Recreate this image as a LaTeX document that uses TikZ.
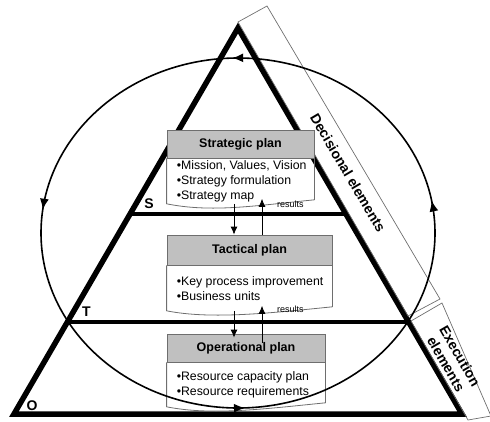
\documentclass[tikz,border=0pt]{standalone}
\usepackage{fontspec}
\setmainfont{Liberation Sans}
\usepackage{xcolor}
\definecolor{hdr_gray}{HTML}{C0C0C0}
\definecolor{edge_gray}{HTML}{6E6E6E}
\usetikzlibrary{positioning,calc,arrows.meta,decorations.markings}

\begin{document}
\begin{tikzpicture}[
        x=1pt, y=-1pt,
        pyramid/.style={line width=5.5pt, line join=miter},
        level/.style={line width=4.5pt},
        band/.style={draw=edge_gray, line width=0.7pt},
        header/.style={draw=edge_gray, fill=hdr_gray, line width=0.8pt, inner sep=0pt,
            font=\fontsize{12.5}{14}\selectfont\bfseries},
        body/.style={align=left, anchor=north west, inner xsep=10pt, inner ysep=0pt,
            font=\fontsize{12.3}{15}\selectfont},
        sheet/.style={draw=edge_gray, line width=0.8pt},
        flow/.style={line width=0.8pt, -{Latex[length=8pt, width=7pt]}},
        res/.style={font=\fontsize{9}{10}\selectfont, inner sep=0pt, anchor=west},
        letter/.style={font=\fontsize{14}{14}\selectfont\bfseries, inner sep=0pt},
        side/.style={font=\fontsize{14}{16}\selectfont\bfseries, align=center, inner sep=0pt},
        loop arrow/.style={line width=1.6pt, postaction=decorate, decoration={markings,
            mark=at position 0.028 with {\arrow{Latex[length=11pt, width=9pt]}},
            mark=at position 0.255 with {\arrow{Latex[length=11pt, width=9pt]}},
            mark=at position 0.48 with {\arrow{Latex[length=11pt, width=9pt]}},
            mark=at position 0.756 with {\arrow{Latex[length=11pt, width=9pt]}}}}
    ]
    \useasboundingbox (0,0) rectangle (490,421);

    % pyramid and its levels
    \coordinate (apex) at (238,28);
    \coordinate (bl) at (14,414);
    \coordinate (br) at (462,414);
    \coordinate (sL) at ($(apex)!0.482!(bl)$);
    \coordinate (sR) at ($(apex)!0.482!(br)$);
    \coordinate (tL) at ($(apex)!0.762!(bl)$);
    \coordinate (tR) at ($(apex)!0.762!(br)$);
    \draw[pyramid] (apex) -- (bl) -- (br) -- cycle;
    \draw[level] (sL) -- (sR);
    \draw[level] (tL) -- (tR);
    \node[letter] (S) at ($(sL)+(19,-10)$) {S};
    \node[letter] (T) at ($(tL)+(19,-10)$) {T};
    \node[letter] (O) at ($(bl)+(18,-8)$) {O};

    % side bands
    \draw[band] (238,22) -- (267,6) -- (440,299) -- (408,316) -- cycle;
    \draw[band] (411,321) -- (442,303) -- (491,416) -- (468,420) -- cycle;
    \node[side, rotate=-59.5] (dec) at (348,173) {Decisional elements};
    \node[side, rotate=-60] (exe) at (453,360) {Execution\\elements};

    % plans
    \node[header, minimum width=147pt, minimum height=28pt] (strat) at (240.5,144) {Strategic plan};
    \node[body, minimum height=45pt] (stratbody) at (strat.south west)
        {\textbullet Mission, Values, Vision\\\textbullet Strategy formulation\\\textbullet Strategy map};
    \draw[sheet] (strat.south west) -- (strat.south west |- stratbody.south)
        .. controls +(45,9) and +(-60,6) .. ([yshift=4pt]strat.south east |- stratbody.south)
        -- (strat.south east);

    \node[header, minimum width=165pt, minimum height=30pt] (tact) at (249.5,250) {Tactical plan};
    \node[body, minimum height=45pt] (tactbody) at (tact.south west)
        {\textbullet Key process improvement\\\textbullet Business units};
    \draw[sheet] (tact.south west) -- (tact.south west |- tactbody.south)
        .. controls +(45,9) and +(-60,6) .. ([yshift=4pt]tact.south east |- tactbody.south)
        -- (tact.south east);

    \node[header, minimum width=158pt, minimum height=28pt] (oper) at (246,348) {Operational plan};
    \node[body, minimum height=44pt] (operbody) at (oper.south west)
        {\textbullet Resource capacity plan\\\textbullet Resource requirements};
    \draw[sheet] (oper.south west) -- (oper.south west |- operbody.south)
        .. controls +(45,9) and +(-60,6) .. ([yshift=4pt]oper.south east |- operbody.south)
        -- (oper.south east);

    % flows between plans
    \coordinate (dn) at (234,0);
    \coordinate (up) at (262,0);
    \draw[flow] (stratbody.south -| dn) -- (tact.north -| dn);
    \draw[flow] (tact.north -| up) -- ([yshift=5pt]stratbody.south -| up);
    \node[res] (res1) at ([xshift=15pt]stratbody.south -| up) {results};
    \draw[flow] (tactbody.south -| dn) -- ([yshift=-4pt]oper.north -| dn);
    \draw[flow] ([yshift=-9pt]oper.north -| up) -- ([yshift=5pt]tactbody.south -| up);
    \node[res] (res2) at ([xshift=15pt,yshift=2pt]tactbody.south -| up) {results};

    % cycle round the pyramid
    \coordinate (mid) at (238,233);
    \draw[loop arrow] ($(mid)+(197,0)$) arc[start angle=0, end angle=-360, x radius=197, y radius=175];
\end{tikzpicture}
\end{document}
